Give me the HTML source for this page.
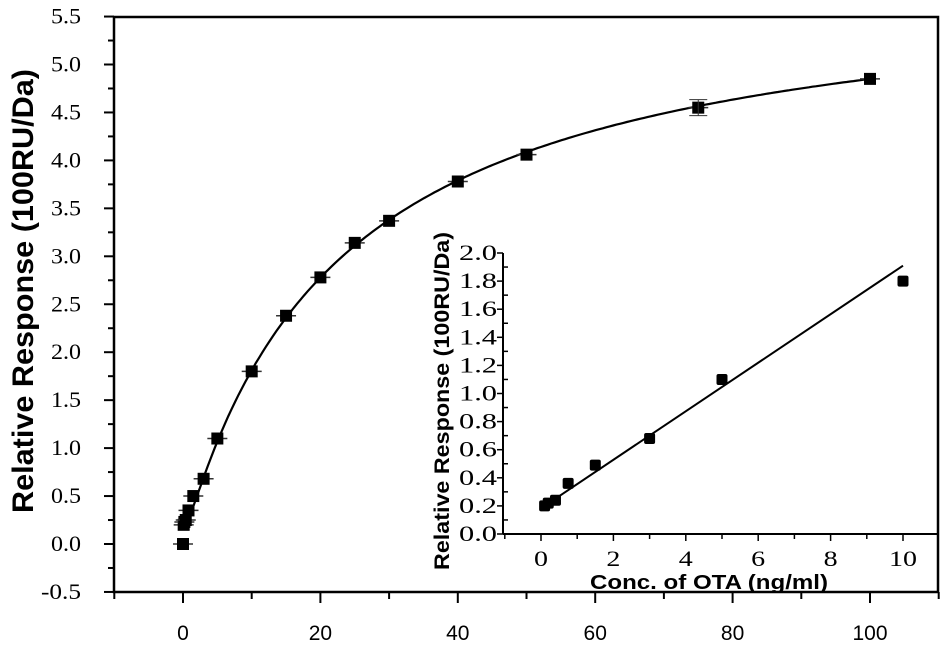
<!DOCTYPE html><html><head><style>body{margin:0;background:#fff}svg{display:block}</style></head><body>
<svg id="s" width="948" height="646" xmlns="http://www.w3.org/2000/svg"></svg>
<script>
const s=document.getElementById('s');let h='';
const X=v=>183+6.87*v, Y=v=>544-95.9*v;
const x=v=>541+36.2*v, y=v=>534-140.5*v;
h+=`<rect x="114" y="17" width="824" height="575" fill="none" stroke="#000" stroke-width="2.5"/>`;
for(let v=-0.5;v<=5.51;v+=0.25){const yy=Y(v),maj=Math.abs(v*2-Math.round(v*2))<1e-6;h+=`<line x1="${maj?104:108}" x2="114" y1="${yy}" y2="${yy}" stroke="#000" stroke-width="2"/>`;if(maj){const t=v.toFixed(1);h+=`<text x="81" y="${yy+7}" text-anchor="end" font-family="Liberation Serif" font-size="22" textLength="${t.length*10}" lengthAdjust="spacingAndGlyphs">${t}</text>`;}}
for(let v=-10;v<=110;v+=10){const xx=X(v),maj=v%20==0;h+=`<line x1="${xx}" x2="${xx}" y1="592" y2="${maj?603:599}" stroke="#000" stroke-width="2"/>`;if(maj&&v>=0&&v<=100)h+=`<text x="${xx}" y="640" text-anchor="middle" font-family="Liberation Sans" font-size="21">${v}</text>`;}
h+=`<text transform="translate(33,291) rotate(-90)" text-anchor="middle" font-family="Liberation Sans" font-weight="bold" font-size="30" textLength="444" lengthAdjust="spacingAndGlyphs">Relative Response (100RU/Da)</text>`;
let p='';for(let v=0.1;v<=100;v+=0.5){p+=(p?'L':'M')+X(v).toFixed(1)+','+Y(5.96*v/(22.9+v)+0.17*Math.exp(-v/0.8)).toFixed(1);}
h+=`<path d="${p}" fill="none" stroke="#000" stroke-width="2.2"/>`;
const pts=[[0,0],[0.1,0.2],[0.2,0.23],[0.4,0.25],[0.8,0.35],[1.5,0.5],[3,0.68],[5,1.1],[10,1.8],[15,2.38],[20,2.78],[25,3.14],[30,3.37],[40,3.78],[50,4.06],[75,4.55],[100,4.85]];
pts.forEach(([a,b])=>{const cx=X(a),cy=Y(b);h+=`<line x1="${cx-10}" x2="${cx+10}" y1="${cy}" y2="${cy}" stroke="#333" stroke-width="1.5"/><rect x="${cx-6}" y="${cy-6}" width="12" height="12" fill="#000"/>`;if(a==75)h+=`<line x1="${cx-9}" x2="${cx+9}" y1="${cy-8}" y2="${cy-8}" stroke="#333"/><line x1="${cx-9}" x2="${cx+9}" y1="${cy+8}" y2="${cy+8}" stroke="#333"/><line x1="${cx}" x2="${cx}" y1="${cy-8}" y2="${cy+8}" stroke="#333"/>`;});
h+=`<line x1="503" y1="253" x2="503" y2="534" stroke="#000" stroke-width="2"/><line x1="503" y1="534" x2="938" y2="534" stroke="#000" stroke-width="2"/>`;
for(let v=0;v<=2.001;v+=0.1){const yy=y(v),maj=Math.round(v*10)%2==0;h+=`<line x1="${maj?497:503}" x2="${maj?503:508}" y1="${yy}" y2="${yy}" stroke="#000" stroke-width="1.5"/>`;if(maj)h+=`<text x="497" y="${yy+7}" text-anchor="end" font-family="Liberation Serif" font-size="22" textLength="38" lengthAdjust="spacingAndGlyphs">${v.toFixed(1)}</text>`;}
for(let v=-1;v<=11;v++){const xx=x(v);if(xx<503||xx>935)continue;h+=`<line x1="${xx}" x2="${xx}" y1="534" y2="${v%2==0?541:539}" stroke="#000" stroke-width="1.5"/>`;if(v%2==0&&v>=0&&v<=10)h+=`<text x="${xx}" y="566" text-anchor="middle" font-family="Liberation Serif" font-size="22" textLength="${v==10?28:14}" lengthAdjust="spacingAndGlyphs">${v}</text>`;}
h+=`<text x="709" y="589" text-anchor="middle" font-family="Liberation Sans" font-weight="bold" font-size="20" textLength="238" lengthAdjust="spacingAndGlyphs">Conc. of OTA (ng/ml)</text>`;
h+=`<text transform="translate(449,401) rotate(-90)" text-anchor="middle" font-family="Liberation Sans" font-weight="bold" font-size="21" textLength="338" lengthAdjust="spacingAndGlyphs">Relative Response (100RU/Da)</text>`;
h+=`<line x1="${x(0.1)}" y1="${y(0.2)}" x2="${x(10)}" y2="${y(1.91)}" stroke="#000" stroke-width="2"/>`;
[[0.1,0.2],[0.2,0.22],[0.4,0.24],[0.75,0.36],[1.5,0.49],[3,0.68],[5,1.1],[10,1.8]].forEach(([a,b])=>{h+=`<rect x="${x(a)-5.5}" y="${y(b)-5.5}" width="11" height="11" fill="#000" rx="2"/>`;});
s.innerHTML=h;
</script></body></html>
